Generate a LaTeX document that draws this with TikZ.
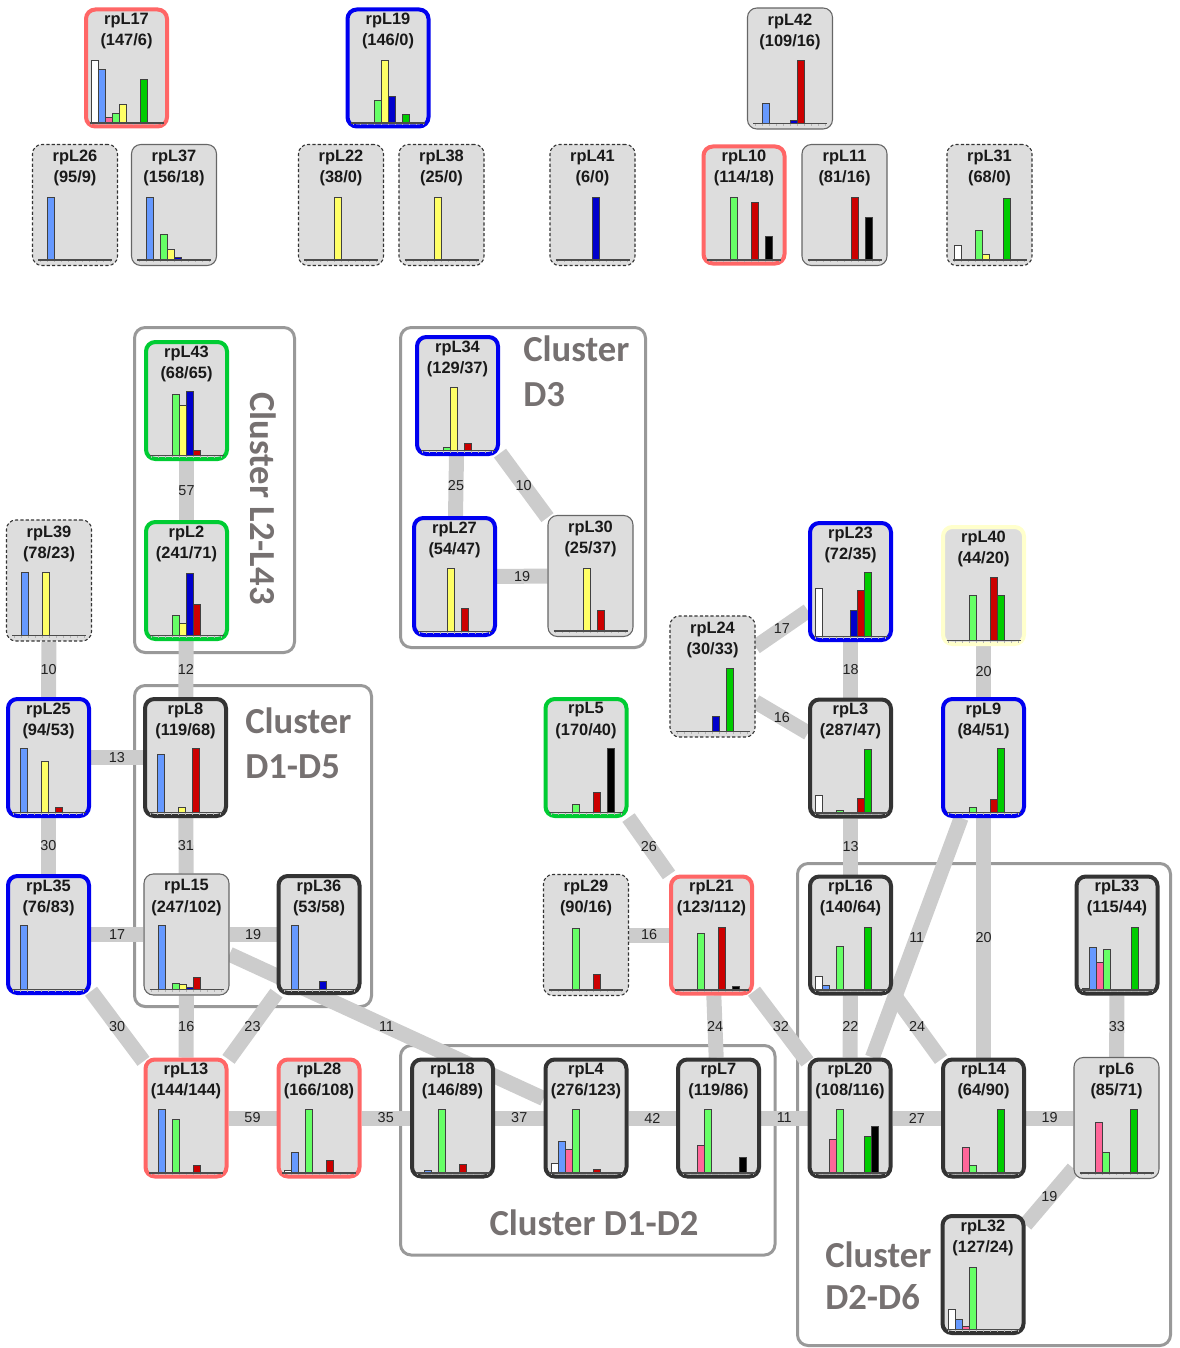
\documentclass[tikz,border=0pt]{standalone}
\usepackage{fontspec}
\setmainfont{Liberation Sans}
\newfontfamily\clusterfont{Carlito}
\definecolor{slot0}{HTML}{FFFFFF}
\definecolor{slot1}{HTML}{6699FF}
\definecolor{slot2}{HTML}{FF6699}
\definecolor{slot3}{HTML}{66FF66}
\definecolor{slot4}{HTML}{FFFF66}
\definecolor{slot5}{HTML}{0000CC}
\definecolor{slot6}{HTML}{CC0000}
\definecolor{slot7}{HTML}{00CC00}
\definecolor{slot8}{HTML}{000000}
\definecolor{boxfill}{HTML}{DDDDDD}
\definecolor{bred}{HTML}{FF6666}
\definecolor{bblue}{HTML}{0000F0}
\definecolor{bgreen}{HTML}{00CC33}
\definecolor{bdark}{HTML}{333333}
\definecolor{byel}{HTML}{FFFFCC}
\definecolor{bthin}{HTML}{666666}
\definecolor{edgegray}{HTML}{CCCCCC}
\definecolor{framegray}{HTML}{999999}
\definecolor{cltextcol}{HTML}{767171}
\definecolor{labelcol}{HTML}{222222}
\pgfdeclarelayer{frames}
\pgfdeclarelayer{edges}
\pgfsetlayers{frames,edges,main}
\tikzset{
  rpbox/.style={rectangle, inner sep=0pt, fill=boxfill},
  thickb/.style={line width=3pt, rounded corners=7pt, minimum width=60.75pt, minimum height=87.75pt},
  thinb/.style={line width=0.8pt, rounded corners=7pt, minimum width=63.75pt, minimum height=90.75pt},
  redb/.style={thickb, draw=bred},
  blueb/.style={thickb, draw=bblue},
  greenb/.style={thickb, draw=bgreen},
  darkb/.style={thickb, draw=bdark},
  yelb/.style={thickb, draw=byel},
  solidb/.style={thinb, draw=bthin},
  dashb/.style={thinb, draw=bdark, dash pattern=on 2.4pt off 1.6pt},
  rptext/.style={font=\bfseries\fontsize{12.3}{14}\selectfont, text=black!90, inner sep=0pt},
  bar/.style={draw=black!75, line width=0.6pt},
  axis/.style={draw=black!70, line width=1.2pt},
  tickm/.style={draw=black!30, line width=0.4pt},
  edgeline/.style={draw=edgegray, line width=11.25pt},
  elabel/.style={font=\fontsize{10.8}{12}\selectfont, text=labelcol, inner sep=0pt},
  frame/.style={draw=framegray, line width=2.25pt, rounded corners=8pt},
  cltext/.style={font=\clusterfont\bfseries\fontsize{27.5}{30}\selectfont, text=cltextcol, inner sep=0pt},
}
\newcommand{\rpnode}[7]{%
  \begin{scope}[shift={(#2,#3)}]
    \node[rpbox,#4] (#1) at (0,0) {};
    \node[rptext] at (0,-47.5) {#5};
    \node[rptext] at (0,-26.5) {(#6)};
    \foreach \s/\h in {#7} {\filldraw[bar, fill=slot\s] (-35+7*\s,55) rectangle ++(7,-\h);}
    \draw[axis] (-37,55) -- (37,55);
    \foreach \i in {0,...,10} {\draw[tickm] (-35+7*\i,55.8) -- ++(0,1.6);}
  \end{scope}}
\begin{document}
\begin{tikzpicture}[x=0.75pt, y=-0.75pt]
\useasboundingbox (0,0) rectangle (1180,1348);
% cluster frames
\begin{pgfonlayer}{frames}
  \draw[frame] (134.5,327.5) rectangle (294.5,652.5);
  \draw[frame] (400.5,327.5) rectangle (645.5,647.5);
  \draw[frame] (134.5,685.5) rectangle (371.5,1006.5);
  \draw[frame] (400.5,1045.5) rectangle (775,1255);
  \draw[frame] (797.5,863.5) rectangle (1170.5,1345.5);
\end{pgfonlayer}
% top row
\rpnode{L17}{126.5}{68}{redb}{rpL17}{147/6}{0/63,1/54,2/6,3/10,4/19,7/44}
\rpnode{L19}{388}{68}{blueb}{rpL19}{146/0}{3/23,4/63,5/27,7/9}
\rpnode{L42}{790}{68.5}{solidb}{rpL42}{109/16}{1/20,5/3,6/63}
\rpnode{L26}{75}{205}{dashb}{rpL26}{95/9}{1/63}
\rpnode{L37}{174}{205}{solidb}{rpL37}{156/18}{1/63,3/26,4/11,5/3}
\rpnode{L22}{341}{205}{dashb}{rpL22}{38/0}{4/63}
\rpnode{L38}{441.5}{205}{dashb}{rpL38}{25/0}{4/63}
\rpnode{L41}{592.5}{205}{dashb}{rpL41}{6/0}{5/63}
\rpnode{L10}{744}{205}{redb}{rpL10}{114/18}{3/63,6/58,8/24}
\rpnode{L11}{844.5}{205}{solidb}{rpL11}{81/16}{6/63,8/43}
\rpnode{L31}{989.5}{205}{dashb}{rpL31}{68/0}{0/15,3/30,4/6,7/62}
% middle
\rpnode{L43}{186.5}{400.5}{greenb}{rpL43}{68/65}{3/61,4/50,5/64,6/5}
\rpnode{L2}{186.5}{580.5}{greenb}{rpL2}{241/71}{3/20,4/12,5/62,6/31}
\rpnode{L39}{49}{580.5}{dashb}{rpL39}{78/23}{1/63,4/63}
\rpnode{L34}{457.5}{395.5}{blueb}{rpL34}{129/37}{3/3,4/63,6/7}
\rpnode{L27}{454.5}{576.5}{blueb}{rpL27}{54/47}{4/63,6/23}
\rpnode{L30}{590.5}{576}{solidb}{rpL30}{25/37}{4/63,6/21}
\rpnode{L23}{850.5}{581.5}{blueb}{rpL23}{72/35}{0/48,5/26,6/46,7/64}
\rpnode{L40}{983.5}{585.5}{yelb}{rpL40}{44/20}{3/45,6/63,7/45}
\rpnode{L24}{712.5}{676.5}{dashb}{rpL24}{30/33}{5/15,7/63}
\rpnode{L3}{850.5}{758}{darkb}{rpL3}{287/47}{0/18,3/3,6/15,7/64}
\rpnode{L9}{983.5}{757.5}{blueb}{rpL9}{84/51}{3/5,6/13,7/64}
\rpnode{L25}{48.5}{757.5}{blueb}{rpL25}{94/53}{1/64,4/51,6/5}
\rpnode{L8}{185.5}{757.5}{darkb}{rpL8}{119/68}{1/58,4/5,6/64}
\rpnode{L5}{586}{757.5}{greenb}{rpL5}{170/40}{3/8,6/20,8/64}
\rpnode{L35}{48.5}{934.5}{blueb}{rpL35}{76/83}{1/64}
\rpnode{L15}{186.5}{934.5}{solidb}{rpL15}{247/102}{1/64,3/6,4/5,5/2,6/12}
\rpnode{L36}{319}{934.5}{darkb}{rpL36}{53/58}{1/64,5/8}
\rpnode{L29}{586}{935}{dashb}{rpL29}{90/16}{3/62,6/16}
\rpnode{L21}{711.5}{935}{redb}{rpL21}{123/112}{3/57,6/63,8/4}
\rpnode{L16}{850.5}{935}{darkb}{rpL16}{140/64}{0/14,1/5,3/44,7/63}
\rpnode{L33}{1117}{935}{darkb}{rpL33}{115/44}{0/2,1/43,2/28,3/41,7/63}
% bottom row
\rpnode{L13}{186}{1118}{redb}{rpL13}{144/144}{1/64,3/54,6/8}
\rpnode{L28}{319}{1118}{redb}{rpL28}{166/108}{0/3,1/21,3/64,6/13}
\rpnode{L18}{452.5}{1118}{darkb}{rpL18}{146/89}{1/3,3/64,6/9}
\rpnode{L4}{586}{1118}{darkb}{rpL4}{276/123}{0/10,1/32,2/24,3/64,6/4}
\rpnode{L7}{718.5}{1118}{darkb}{rpL7}{119/86}{2/28,3/64,8/16}
\rpnode{L20}{850}{1118}{darkb}{rpL20}{108/116}{2/34,3/64,7/37,8/47}
\rpnode{L14}{983.5}{1118}{darkb}{rpL14}{64/90}{2/26,3/8,7/64}
\rpnode{L6}{1116.5}{1118}{solidb}{rpL6}{85/71}{2/51,3/21,7/64}
\rpnode{L32}{983}{1274.5}{darkb}{rpL32}{127/24}{0/20,1/10,2/3,3/62}
% edges
\begin{pgfonlayer}{edges}
\foreach \a/\b/\l in {L43/L2/57, L39/L25/10, L2/L8/12, L25/L8/13, L25/L35/30,
  L8/L15/31, L35/L15/17, L15/L36/19, L35/L13/30, L15/L13/16, L36/L13/23,
  L15/L4/11, L34/L27/25, L34/L30/10, L27/L30/19, L24/L23/17, L24/L3/16,
  L23/L3/18, L40/L9/20, L3/L16/13, L9/L20/11, L9/L14/20, L5/L21/26,
  L29/L21/16, L21/L7/24, L21/L20/32, L13/L28/59, L28/L18/35, L18/L4/37,
  L4/L7/42, L7/L20/11, L16/L20/22, L16/L14/24, L20/L14/27, L14/L6/19,
  L33/L6/33, L6/L32/19}
  {\draw[edgeline] (\a) -- node[elabel]{\l} (\b);}
\end{pgfonlayer}
% cluster labels
\node[cltext, rotate=-90, anchor=base] at (250,498.5) {Cluster L2-L43};
\node[cltext, anchor=base west] at (523,361) {Cluster};
\node[cltext, anchor=base west] at (523,406) {D3};
\node[cltext, anchor=base west] at (245,733) {Cluster};
\node[cltext, anchor=base west] at (245,778) {D1-D5};
\node[cltext, anchor=base] at (594,1235) {Cluster D1-D2};
\node[cltext, anchor=base west] at (825,1267) {Cluster};
\node[cltext, anchor=base west] at (825,1309) {D2-D6};
\end{tikzpicture}
\end{document}
